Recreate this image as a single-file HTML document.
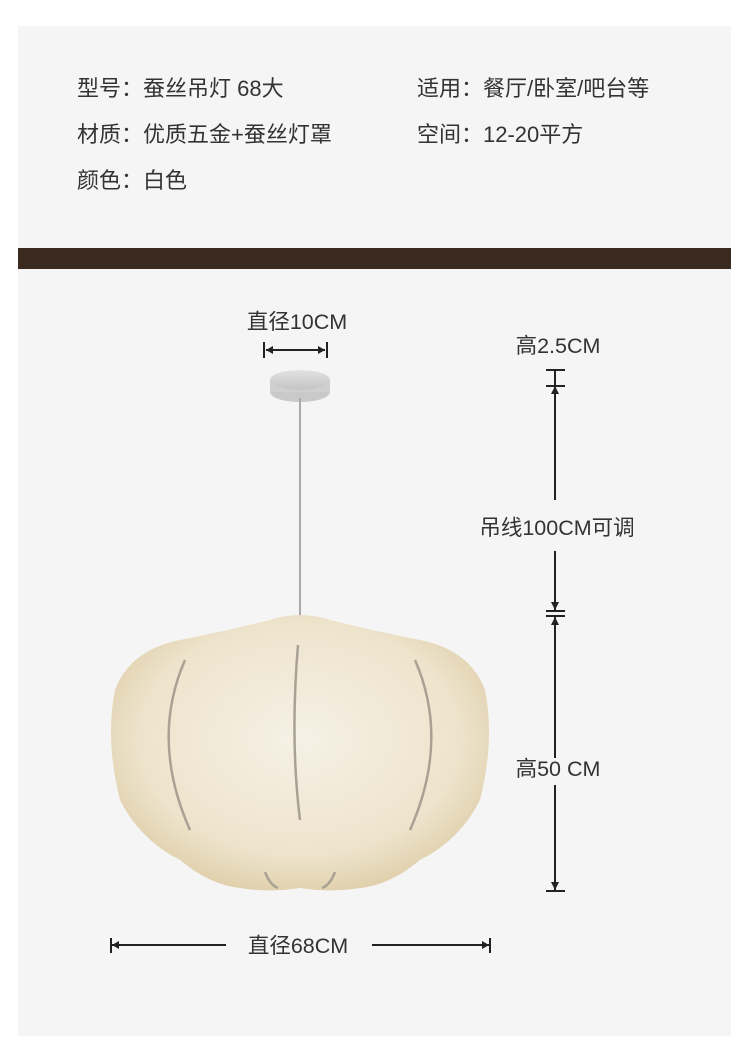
<!DOCTYPE html>
<html><head><meta charset="utf-8"><style>
body{margin:0;width:750px;height:1059px;background:#fff;position:relative;overflow:hidden;font-family:"Liberation Sans","Noto Sans CJK SC",sans-serif;color:#333}
.panel{position:absolute;left:18px;top:26px;width:713px;height:1010px;background:#f5f5f5}
.band{position:absolute;left:18px;top:248px;width:713px;height:21px;background:#3a2a1f}
.t{position:absolute;font-size:22px;line-height:26px;white-space:nowrap}
</style></head><body>
<div class="panel"></div>
<div class="band"></div>
<div class="t" style="left:77px;top:76px">型号：蚕丝吊灯 68大</div>
<div class="t" style="left:417px;top:76px">适用：餐厅/卧室/吧台等</div>
<div class="t" style="left:77px;top:122px">材质：优质五金+蚕丝灯罩</div>
<div class="t" style="left:417px;top:122px">空间：12-20平方</div>
<div class="t" style="left:77px;top:168px">颜色：白色</div>
<svg width="750" height="1059" style="position:absolute;left:0;top:0">
<defs>
<radialGradient id="g" cx="0.5" cy="0.45" r="0.6">
<stop offset="0" stop-color="#f6f1e6"/><stop offset="0.7" stop-color="#eee4cd"/><stop offset="1" stop-color="#ddcba4"/></radialGradient>
<linearGradient id="c" x1="0" y1="0" x2="0" y2="1"><stop offset="0" stop-color="#e2e2e2"/><stop offset="1" stop-color="#c4c4c4"/></linearGradient>
</defs>
<g font-size="21.5" fill="#333" text-anchor="middle" font-family="Liberation Sans, Noto Sans CJK SC, sans-serif">
<text x="297" y="329">直径10CM</text>
<text x="558" y="353">高2.5CM</text>
<text x="557" y="535">吊线100CM可调</text>
<text x="558" y="776">高50 CM</text>
<text x="298" y="953">直径68CM</text>
</g>
<g stroke="#222" stroke-width="2" fill="#222">
<line x1="264" y1="342" x2="264" y2="358"/><line x1="327" y1="342" x2="327" y2="358"/><line x1="266" y1="350" x2="325" y2="350"/>
<path d="M266 350l7-4v8z M325 350l-7-4v8z" stroke="none"/>
<line x1="546" y1="370" x2="565" y2="370"/><line x1="546" y1="386" x2="565" y2="386"/>
<line x1="555" y1="370" x2="555" y2="386"/>
<line x1="555" y1="386" x2="555" y2="500"/><path d="M555 386l-4 8h8z" stroke="none"/>
<line x1="555" y1="551" x2="555" y2="610"/><path d="M555 610l-4-8h8z" stroke="none"/>
<line x1="546" y1="611" x2="565" y2="611"/><line x1="546" y1="616" x2="565" y2="616"/>
<line x1="555" y1="616" x2="555" y2="758"/><path d="M555 617l-4 8h8z" stroke="none"/>
<line x1="555" y1="785" x2="555" y2="890"/><path d="M555 890l-4-8h8z" stroke="none"/>
<line x1="546" y1="891" x2="565" y2="891"/>
<line x1="111" y1="938" x2="111" y2="953"/><line x1="490" y1="938" x2="490" y2="953"/>
<line x1="112" y1="945" x2="226" y2="945"/><line x1="372" y1="945" x2="489" y2="945"/>
<path d="M112 945l7-4v8z M489 945l-7-4v8z" stroke="none"/>
</g>
<ellipse cx="300" cy="392" rx="30" ry="10" fill="#c9c9c9"/>
<rect x="270" y="380" width="60" height="12" fill="#cfcfcf"/>
<ellipse cx="300" cy="380" rx="30" ry="10" fill="url(#c)"/>
<line x1="300" y1="398" x2="300" y2="617" stroke="#aaa" stroke-width="2"/>
<path d="M270 620 Q300 610 330 620 Q370 630 420 640 Q470 650 485 690 Q495 740 480 800 Q460 840 420 860 Q390 885 360 888 Q330 893 300 888 Q270 893 240 888 Q210 885 180 860 Q140 840 120 800 Q105 740 115 690 Q130 650 180 640 Q230 630 270 620Z" fill="url(#g)"/>
<g fill="none" stroke="#a9a294" stroke-width="2.5">
<path d="M185 660 Q150 740 190 830"/><path d="M415 660 Q450 740 410 830"/>
<path d="M298 645 Q290 740 300 820"/>
<path d="M265 872 Q270 885 278 888"/><path d="M322 888 Q330 885 335 872"/>
</g>
</svg>
</body></html>
